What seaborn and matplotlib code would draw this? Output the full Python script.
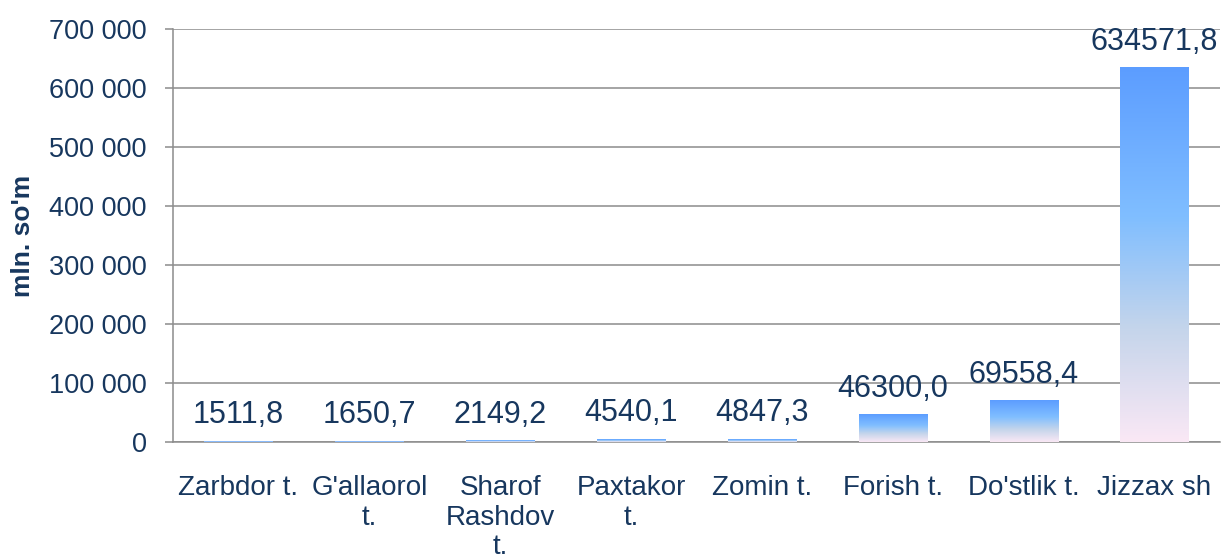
import matplotlib
matplotlib.use("Agg")
import matplotlib.pyplot as plt
import seaborn as sns
import pandas as pd
import numpy as np
from matplotlib.colors import LinearSegmentedColormap
from matplotlib.ticker import FuncFormatter

# data
tumanlar = ["Zarbdor t.", "G'allaorol\nt.", "Sharof\nRashdov\nt.", "Paxtakor\nt.",
            "Zomin t.", "Forish t.", "Do'stlik t.", "Jizzax sh"]
qiymat = [1511.8, 1650.7, 2149.2, 4540.1, 4847.3, 46300.0, 69558.4, 634571.8]
yorliqlar = ["1511,8", "1650,7", "2149,2", "4540,1", "4847,3", "46300,0", "69558,4", "634571,8"]

df = pd.DataFrame({"tuman": tumanlar, "qiymat": qiymat})

sns.set_theme(style="white")
plt.rcParams["font.family"] = ["Liberation Sans", "DejaVu Sans"]
matn = "#17375E"
chiziq = "#8C8C8C"

fig = plt.figure(figsize=(12.23, 5.59), dpi=100)
ax = fig.add_axes([0.1415, 0.2093, 0.856, 0.7388])

sns.barplot(x="tuman", y="qiymat", data=df, width=0.52, color="#6FA8F0", ax=ax, zorder=3)

grad = LinearSegmentedColormap.from_list(
    "g", [(0, "#FAE8F5"), (0.3, "#C5D5EB"), (0.6, "#80BEFF"), (1, "#5C9DFF")])
for p in ax.patches:
    x0, y0, w, h = p.get_x(), p.get_y(), p.get_width(), p.get_height()
    ax.imshow(np.linspace(0, 1, 256).reshape(-1, 1), cmap=grad, origin="lower",
              extent=[x0, x0 + w, y0, y0 + h], aspect="auto", zorder=3)
    p.set_visible(False)

for i, (v, t) in enumerate(zip(qiymat, yorliqlar)):
    ax.annotate(t, (i, v), xytext=(0, 13), textcoords="offset points",
                ha="center", va="baseline", fontsize=22, color=matn, zorder=5)

ax.set_xlim(-0.5, 7.5)
ax.set_ylim(0, 700000)
ax.set_yticks(np.arange(0, 700001, 100000))
ax.yaxis.set_major_formatter(FuncFormatter(lambda v, _: f"{int(v):,}".replace(",", " ")))
ax.grid(axis="y", color=chiziq, linewidth=1.1, zorder=0)
ax.set_axisbelow(True)

for s in ["top", "right"]:
    ax.spines[s].set_visible(False)
for s in ["left", "bottom"]:
    ax.spines[s].set_color(chiziq)
    ax.spines[s].set_linewidth(1.1)

ax.tick_params(axis="y", left=True, length=6, width=1.1, color=chiziq,
               labelsize=19.5, labelcolor=matn, pad=13)
ax.tick_params(axis="x", length=0, labelsize=20, labelcolor=matn, pad=24)
for lbl in ax.get_xticklabels():
    lbl.set_linespacing(1.17)

ax.set_xlabel("")
ax.set_ylabel("mln. so'm", fontsize=19, fontweight="bold", color=matn)
ax.yaxis.set_label_coords(-0.132, 0.5)

fig.savefig("out.png", dpi=100)
